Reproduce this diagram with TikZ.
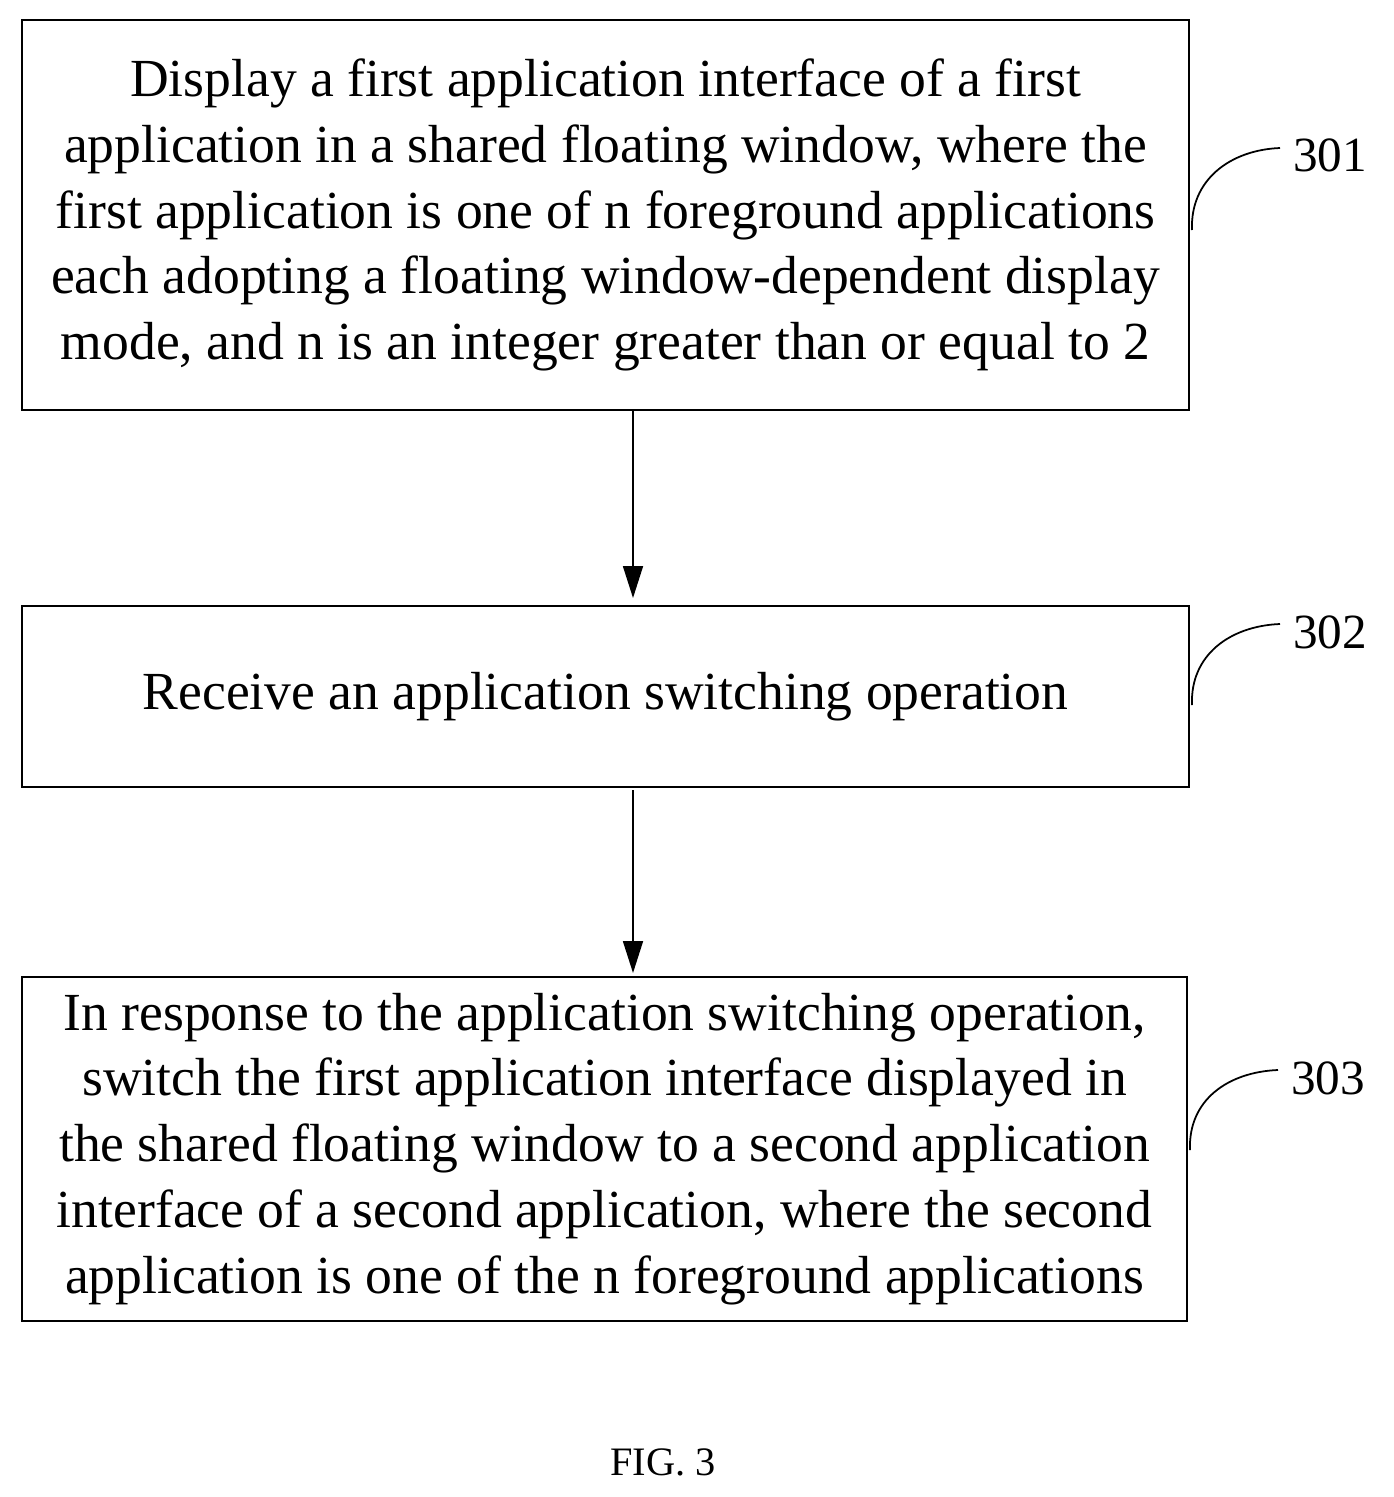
\documentclass[tikz,border=0pt]{standalone}
\usepackage{fontspec}
\setmainfont{Liberation Serif}
\usetikzlibrary{arrows.meta,positioning}
\tikzset{
  procbox/.style={draw, line width=1pt, align=center,
    font=\fontsize{30.5}{37.5}\selectfont, inner sep=0pt},
  flow/.style={-{Triangle[length=0.64cm,width=0.4cm]}, line width=1pt},
  tag/.style={font=\fontsize{28}{30}\selectfont},
}
\begin{document}
\begin{tikzpicture}[x=0.02cm,y=-0.02cm]
  \useasboundingbox (0,0) rectangle (1393,1497);
  % process steps
  \node[procbox, minimum width=23.34cm, minimum height=7.8cm] (s1) at (605.5,215)
    {Display a first application interface of a first\\ application in a shared floating window, where the\\ first application is one of n foreground applications\\ each adopting a floating window-dependent display\\ mode, and n is an integer greater than or equal to 2};
  \node[procbox, minimum width=23.34cm, minimum height=3.62cm] (s2) at (605.5,696.5)
    {Receive an application switching operation};
  \node[procbox, minimum width=23.3cm, minimum height=6.88cm] (s3) at (604.5,1149)
    {In response to the application switching operation,\\ switch the first application interface displayed in\\ the shared floating window to a second application\\ interface of a second application, where the second\\ application is one of the n foreground applications};
  % arrows
  \coordinate (a1) at (633,598);
  \coordinate (a2) at (633,790);
  \coordinate (a3) at (633,973);
  \draw[flow] (s1.south -| a1) -- (a1);
  \draw[flow] (a2) -- (a3);
  % reference numbers
  \node[tag] (t1) at (1330,155) {301};
  \node[tag] (t2) at (1330,632) {302};
  \node[tag] (t3) at (1328,1078) {303};
  \draw[line width=1pt] (1192,230) .. controls (1190,180) and (1230,150) .. (1280,148);
  \draw[line width=1pt] (1192,705) .. controls (1190,655) and (1230,626) .. (1280,624);
  \draw[line width=1pt] (1190,1150) .. controls (1188,1100) and (1228,1072) .. (1278,1070);
  \node[font=\fontsize{23}{24}\selectfont] (cap) at (663,1462) {FIG. 3};
\end{tikzpicture}
\end{document}
